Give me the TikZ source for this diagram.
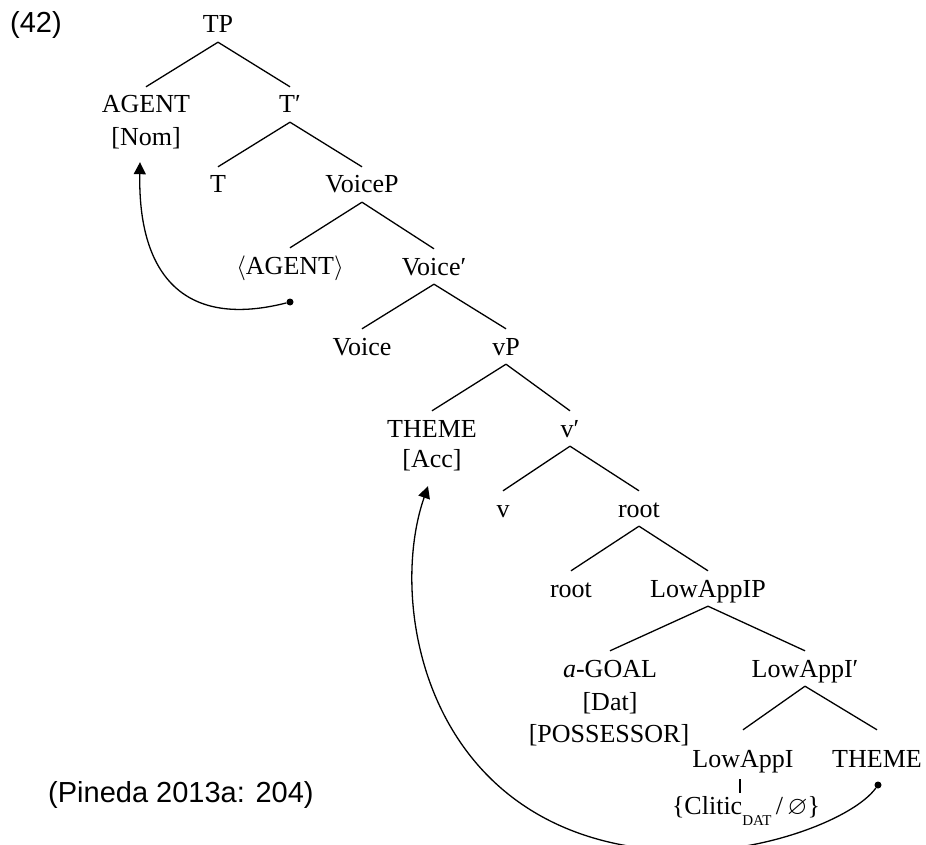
\documentclass[tikz,border=0pt]{standalone}
\usepackage{amssymb}
\usepackage{fontspec}
\setmainfont{Liberation Serif}
\newfontfamily\labelsans{Liberation Sans}
\usetikzlibrary{arrows.meta}
\begin{document}
\begin{tikzpicture}[x=1pt,y=-1pt,
  cat/.style={font=\fontsize{26}{30}\selectfont, anchor=base,
    text height=17pt, text depth=0pt, inner xsep=2pt, inner ysep=9pt},
  branch/.style={line width=1.3pt},
  trace/.style={circle, fill=black, inner sep=0pt, minimum size=7pt},
  move/.style={line width=1.3pt, -{Triangle[length=12pt,width=12pt]}},
  note/.style={font=\labelsans\fontsize{29}{32}\selectfont, anchor=base west, inner sep=0pt}]
\useasboundingbox (0,0) rectangle (926,845);

% example number and source
\node[note] (exnum) at (10,33) {(42)};
\node[note] (source) at (48,802) {(Pineda 2013a: 204)};

% tree nodes
\node[cat] (TP) at (218,33) {TP};
\node[cat] (agent) at (146,113) {AGENT};
\node[cat] (nom) at (146,146) {[Nom]};
\node[cat] (Tbar) at (290,113) {T′};
\node[cat] (T) at (218,193) {T};
\node[cat] (VoiceP) at (362,193) {VoiceP};
\node[cat] (agentcopy) at (290,274) {$\langle$AGENT$\rangle$};
\node[trace] (agenttrace) at (290,302) {};
\node[cat] (Voicebar) at (434,275) {Voice′};
\node[cat] (Voice) at (362,355) {Voice};
\node[cat] (vP) at (506,355) {vP};
\node[cat] (theme) at (432,437) {THEME};
\node[cat] (acc) at (432,467) {[Acc]};
\node[cat] (vbar) at (570,437) {v′};
\node[cat] (v) at (503,517) {v};
\node[cat] (root) at (639,517) {root};
\node[cat] (rootHead) at (571,597) {root};
\node[cat] (LowAppIP) at (708,597) {LowAppIP};
\node[cat] (goal) at (610,677) {\textit{a}-GOAL};
\node[cat] (dat) at (610,710) {[Dat]};
\node[cat] (poss) at (609,742) {[POSSESSOR]};
\node[cat] (LowAppIbar) at (805,677) {LowAppI′};
\node[cat] (LowAppI) at (743,767) {LowAppI};
\node[cat] (themeLow) at (877,767) {THEME};
\node[trace] (themetrace) at (878,785) {};
\node[cat] (clitic) at (746,814) {\{Clitic\raisebox{-11pt}{\fontsize{15}{15}\selectfont DAT}\,/\,$\varnothing$\}};

% branches
\draw[branch] (TP.south) -- (agent.north);
\draw[branch] (TP.south) -- (Tbar.north);
\draw[branch] (Tbar.south) -- (T.north);
\draw[branch] (Tbar.south) -- (VoiceP.north);
\draw[branch] (VoiceP.south) -- (agentcopy.north);
\draw[branch] (VoiceP.south) -- (Voicebar.north);
\draw[branch] (Voicebar.south) -- (Voice.north);
\draw[branch] (Voicebar.south) -- (vP.north);
\draw[branch] (vP.south) -- (theme.north);
\draw[branch] (vP.south) -- (vbar.north);
\draw[branch] (vbar.south) -- (v.north);
\draw[branch] (vbar.south) -- (root.north);
\draw[branch] (root.south) -- (rootHead.north);
\draw[branch] (root.south) -- (LowAppIP.north);
\draw[branch] (LowAppIP.south) -- (goal.north);
\draw[branch] (LowAppIP.south) -- (LowAppIbar.north);
\draw[branch] (LowAppIbar.south) -- ([yshift=11pt]LowAppI.north);
\draw[branch] (LowAppIbar.south) -- ([yshift=11pt]themeLow.north);
\draw[branch] ([xshift=-3pt,yshift=-3pt]LowAppI.south) -- ([xshift=-3pt,yshift=-5pt]LowAppI.south |- clitic.north);

% movement arrows
\draw[move] (agenttrace) .. controls +(-110,28) and +(-2,108) .. ([xshift=-6pt,yshift=-7pt]nom.south);
\coordinate (sweep) at (690,851);
\draw[move] (themetrace) .. controls +(-23,32) and +(80,0) .. (sweep)
  .. controls +(-260,0) and +(-43,124) .. ([xshift=-4pt,yshift=-10pt]acc.south);
\end{tikzpicture}
\end{document}
